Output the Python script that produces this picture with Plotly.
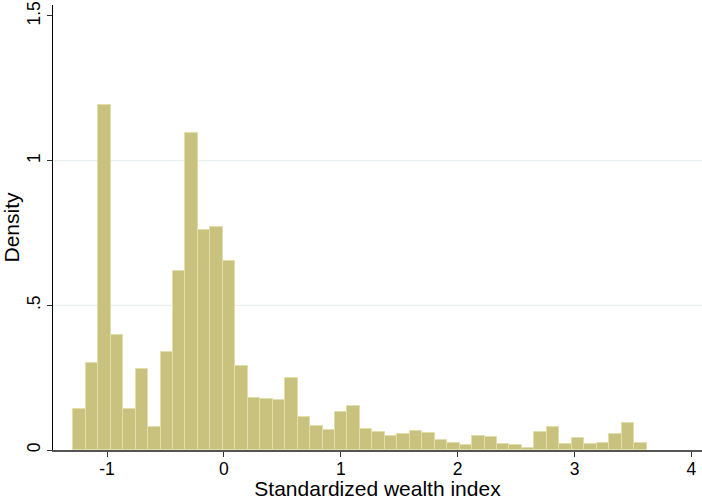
import plotly.graph_objects as go

# Histogram of the standardized wealth index (density scale)
bin_start = -1.288
bin_width = 0.1066
density = [
    0.141, 0.302, 1.194, 0.396, 0.141, 0.279, 0.078, 0.339, 0.617, 1.095,
    0.759, 0.770, 0.653, 0.291, 0.181, 0.178, 0.172, 0.248, 0.113, 0.084,
    0.068, 0.133, 0.152, 0.073, 0.062, 0.048, 0.054, 0.066, 0.059, 0.036,
    0.024, 0.018, 0.047, 0.044, 0.022, 0.018, 0.007, 0.061, 0.081, 0.021,
    0.042, 0.021, 0.024, 0.055, 0.092, 0.024,
]
x_ticks = [-1, 0, 1, 2, 3, 4]
x_tick_text = ["-1", "0", "1", "2", "3", "4"]
y_ticks = [0, 0.5, 1, 1.5]
y_tick_text = ["0", ".5", "1", "1.5"]
grid_levels = [0.5, 1]

centers = [bin_start + (i + 0.5) * bin_width for i in range(len(density))]

FONT = "Liberation Sans, Arial, Helvetica, sans-serif"

fig = go.Figure(
    go.Bar(
        x=centers,
        y=density,
        width=bin_width,
        marker=dict(color="#c9c27e", line=dict(color="#e2deaa", width=1)),
        hoverinfo="x+y",
    )
)

for g in grid_levels:
    fig.add_shape(
        type="line", xref="paper", x0=0, x1=1, yref="y", y0=g, y1=g,
        line=dict(color="#e7eff1", width=1.2), layer="below",
    )

fig.update_layout(
    width=702,
    height=500,
    margin=dict(l=53, r=0, t=5, b=50),
    paper_bgcolor="white",
    plot_bgcolor="white",
    bargap=0,
    showlegend=False,
    font=dict(family=FONT, size=17.5, color="black"),
    xaxis=dict(
        range=[-1.462, 4.09],
        tickvals=x_ticks,
        ticktext=x_tick_text,
        ticks="outside",
        ticklen=5,
        tickwidth=1,
        tickcolor="#333",
        ticklabelstandoff=-3,
        showgrid=False,
        zeroline=False,
        showline=True,
        linecolor="#555",
        linewidth=1.5,
        title=dict(text="Standardized wealth index", standoff=2),
    ),
    yaxis=dict(
        range=[0, 1.538],
        tickvals=y_ticks,
        ticktext=y_tick_text,
        tickangle=-90,
        ticks="outside",
        ticklen=5,
        tickwidth=1,
        tickcolor="#333",
        showgrid=False,
        zeroline=False,
        showline=True,
        linecolor="black",
        linewidth=1,
        title=dict(text="Density", standoff=6),
    ),
)

fig.write_html("out.html")
